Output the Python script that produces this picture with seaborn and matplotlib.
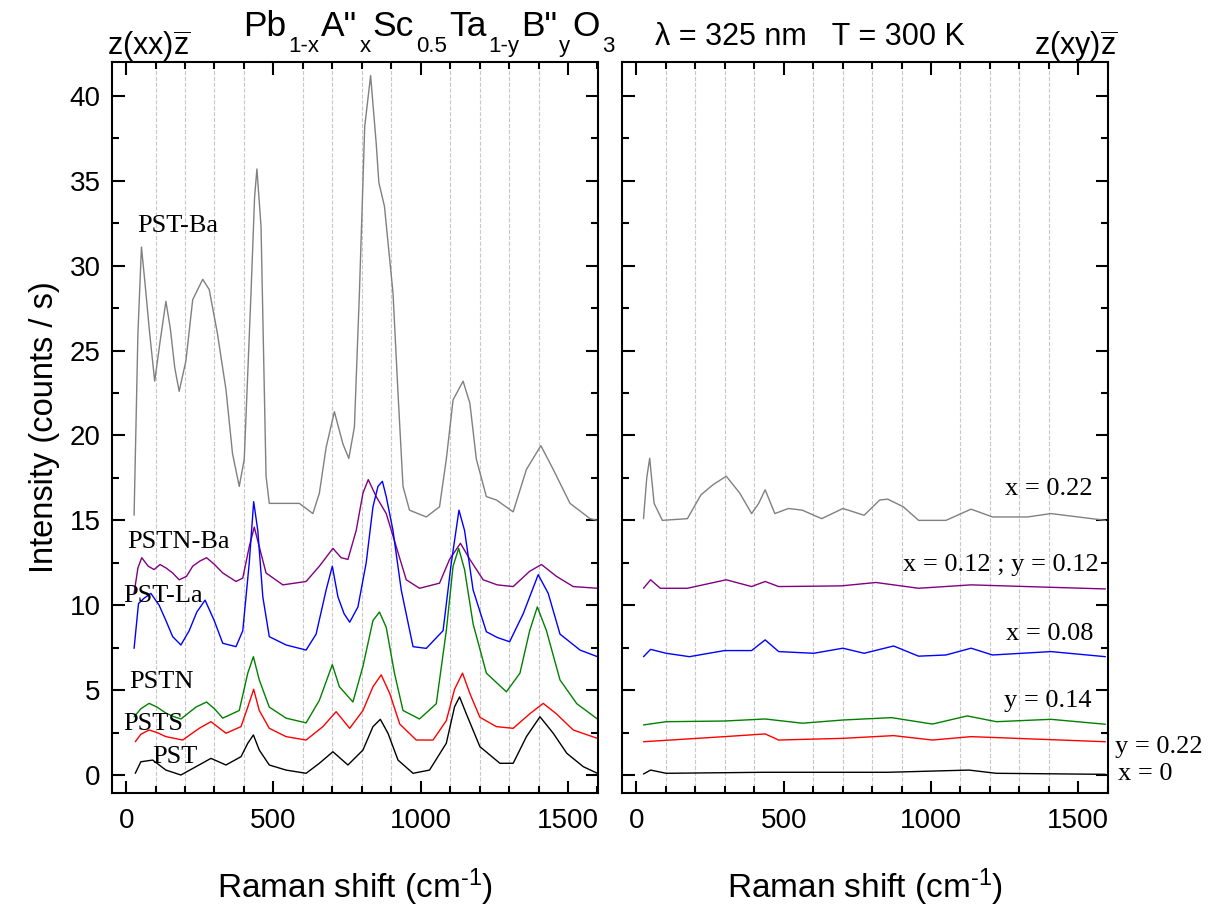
import numpy as np
import pandas as pd
import matplotlib
matplotlib.use('Agg')
import matplotlib.pyplot as plt
from matplotlib.ticker import MultipleLocator
import seaborn as sns

# z(xx)z  --  left panel
pst_ba_x = [27, 40, 52, 65, 80, 97, 115, 135, 150, 165, 180, 203, 226, 260, 282, 310, 339, 361, 384, 401,
            424, 436, 444, 458, 475, 486, 532, 588, 634, 656, 679, 707, 736, 756, 775, 792, 810, 830, 849, 858,
            877, 906, 923, 940, 962, 1019, 1064, 1087, 1110, 1144, 1167, 1189, 1223, 1257, 1314, 1359, 1408,
            1450, 1507, 1575, 1600]
pst_ba_y = [15.3, 26.0, 31.1, 28.8, 26.0, 23.2, 25.5, 27.9, 26.3, 24.0, 22.6, 24.4, 28.0, 29.2, 28.6, 26.0,
            22.7, 18.95, 17.0, 18.6, 28.4, 34.0, 35.7, 32.3, 17.6, 16.0, 16.0, 16.0, 15.4, 16.6, 19.3, 21.4, 19.5,
            18.65, 20.5, 28.4, 38.2, 41.2, 37.2, 34.9, 33.5, 28.4, 22.5, 17.0, 15.6, 15.2, 15.8, 18.6, 22.1, 23.2,
            21.9, 18.6, 16.4, 16.2, 15.5, 18.0, 19.4, 18.0, 16.0, 15.1, 15.0]

pstn_ba_x = [27, 40, 53, 75, 95, 115, 135, 158, 180, 205, 226, 250, 273, 300, 328, 373, 396, 418, 435, 452,
             475, 532, 611, 656, 702, 730, 753, 781, 804, 822, 849, 883, 917, 951, 996, 1064, 1098, 1135, 1167,
             1212, 1260, 1314, 1370, 1410, 1461, 1518, 1600]
pstn_ba_y = [10.7, 12.2, 12.8, 12.3, 12.1, 12.4, 12.2, 11.9, 11.5, 11.7, 12.3, 12.6, 12.8, 12.4, 11.9, 11.4,
             11.6, 13.45, 14.6, 13.45, 11.9, 11.2, 11.4, 12.3, 13.35, 12.8, 12.7, 14.4, 16.6, 17.4, 16.4, 15.4,
             13.45, 11.5, 11.0, 11.3, 12.7, 13.65, 12.7, 11.5, 11.2, 11.1, 12.0, 12.4, 11.7, 11.1, 11.0]

pst_la_x = [27, 42, 60, 84, 112, 135, 158, 186, 214, 240, 268, 299, 328, 373, 396, 418, 433, 447, 464, 486,
            543, 611, 645, 679, 700, 719, 740, 759, 787, 815, 838, 855, 870, 883, 906, 934, 974, 1019, 1076, 1104,
            1130, 1149, 1178, 1223, 1260, 1302, 1348, 1399, 1433, 1473, 1541, 1600]
pst_la_y = [7.46, 10.1, 10.4, 10.7, 10.0, 9.1, 8.15, 7.66, 8.5, 9.6, 10.3, 9.1, 7.76, 7.56, 8.5, 12.5, 16.1,
            14.4, 10.5, 8.15, 7.66, 7.36, 8.3, 10.9, 12.3, 10.5, 9.5, 9.0, 9.9, 12.5, 15.8, 17.0, 17.3, 16.4,
            14.4, 10.9, 7.56, 7.46, 8.5, 12.5, 15.6, 14.4, 10.9, 8.44, 8.1, 7.85, 9.5, 11.8, 10.7, 8.3, 7.36, 6.97]

pstn_x = [27, 50, 78, 105, 135, 160, 186, 237, 273, 300, 328, 384, 413, 432, 452, 486, 543, 611, 656, 700,
          724, 770, 804, 838, 860, 883, 911, 940, 996, 1053, 1087, 1110, 1129, 1149, 1178, 1223, 1291, 1337,
          1370, 1396, 1427, 1473, 1530, 1600]
pstn_y = [3.43, 3.9, 4.22, 4.0, 3.65, 3.45, 3.3, 4.0, 4.3, 3.9, 3.35, 3.8, 6.0, 6.97, 5.6, 4.0, 3.35, 3.07,
          4.4, 6.5, 5.2, 4.3, 6.4, 9.1, 9.6, 8.7, 6.0, 3.8, 3.3, 4.2, 8.5, 12.3, 13.35, 12.1, 8.9, 6.0, 4.9,
          6.0, 8.5, 9.9, 8.5, 5.6, 4.2, 3.3]

psts_x = [31, 50, 78, 105, 135, 192, 248, 288, 339, 390, 413, 433, 452, 486, 543, 611, 668, 713, 759, 804,
          838, 866, 895, 929, 985, 1042, 1087, 1115, 1142, 1167, 1201, 1257, 1314, 1370, 1416, 1461, 1518, 1600]
psts_y = [1.96, 2.4, 2.65, 2.5, 2.26, 2.06, 2.75, 3.14, 2.46, 2.85, 4.0, 5.05, 3.8, 2.75, 2.26, 2.06, 2.85,
          3.73, 2.75, 3.8, 5.2, 5.9, 4.8, 3.0, 2.06, 2.06, 3.2, 5.05, 6.0, 4.8, 3.4, 2.85, 2.75, 3.6, 4.22,
          3.6, 2.65, 2.16]

pst_x = [31, 50, 90, 135, 186, 237, 288, 339, 390, 413, 432, 452, 486, 543, 611, 656, 702, 753, 804, 838,
         863, 889, 923, 974, 1030, 1087, 1115, 1132, 1155, 1201, 1269, 1314, 1359, 1405, 1450, 1496, 1552, 1600]
pst_y = [0.1, 0.78, 0.88, 0.29, 0.0, 0.49, 0.98, 0.59, 1.08, 1.87, 2.36, 1.47, 0.59, 0.29, 0.1, 0.69, 1.37,
         0.59, 1.47, 2.85, 3.28, 2.46, 0.88, 0.1, 0.29, 1.87, 4.02, 4.6, 3.6, 1.67, 0.69, 0.69, 2.26, 3.43,
         2.46, 1.28, 0.49, 0.1]

# z(xy)z  --  right panel
xy_022_x = [24, 35, 45, 60, 88, 173, 219, 260, 305, 351, 391, 415, 437, 470, 516, 563, 629, 701, 773, 826,
            853, 906, 958, 1051, 1136, 1209, 1328, 1407, 1592]
xy_022_y = [15.1, 17.5, 18.66, 16.0, 15.0, 15.1, 16.5, 17.1, 17.6, 16.6, 15.4, 16.0, 16.8, 15.4, 15.7, 15.6,
            15.1, 15.7, 15.3, 16.2, 16.25, 15.8, 15.0, 15.0, 15.66, 15.2, 15.2, 15.4, 15.0]
xy_012_x = [24, 48, 81, 173, 305, 391, 437, 483, 695, 813, 958, 1136, 1592]
xy_012_y = [11.0, 11.5, 11.0, 11.0, 11.5, 11.1, 11.4, 11.1, 11.14, 11.34, 11.0, 11.2, 10.96]
xy_008_x = [24, 48, 101, 180, 299, 391, 437, 483, 602, 701, 773, 873, 958, 1051, 1136, 1209, 1407, 1592]
xy_008_y = [6.97, 7.4, 7.17, 6.97, 7.33, 7.33, 7.96, 7.27, 7.17, 7.47, 7.17, 7.6, 7.0, 7.07, 7.47, 7.07,
            7.27, 6.97]
xy_y014_x = [24, 101, 299, 437, 563, 701, 866, 1005, 1123, 1222, 1407, 1592]
xy_y014_y = [2.95, 3.14, 3.18, 3.3, 3.05, 3.24, 3.38, 3.0, 3.48, 3.14, 3.28, 2.99]
xy_y022_x = [24, 299, 437, 483, 701, 873, 1005, 1136, 1592]
xy_y022_y = [1.96, 2.26, 2.42, 2.06, 2.16, 2.32, 2.06, 2.26, 1.96]
xy_0_x = [24, 48, 101, 431, 853, 1129, 1222, 1592]
xy_0_y = [0.06, 0.29, 0.1, 0.16, 0.16, 0.29, 0.1, 0.04]

colors = {'gray': '#808080', 'purple': '#800080', 'blue': '#0000FF',
          'green': '#008000', 'red': '#FF0000', 'black': '#000000'}

left_series = {'gray': (pst_ba_x, pst_ba_y), 'purple': (pstn_ba_x, pstn_ba_y), 'blue': (pst_la_x, pst_la_y),
               'green': (pstn_x, pstn_y), 'red': (psts_x, psts_y), 'black': (pst_x, pst_y)}
right_series = {'gray': (xy_022_x, xy_022_y), 'purple': (xy_012_x, xy_012_y), 'blue': (xy_008_x, xy_008_y),
                'green': (xy_y014_x, xy_y014_y), 'red': (xy_y022_x, xy_y022_y), 'black': (xy_0_x, xy_0_y)}

# sample labels: text, x, y
left_labels = [('PST-Ba', 36, 32.0), ('PSTN-Ba', 2, 13.35), ('PST-La', -11, 10.2),
               ('PSTN', 11, 5.1), ('PSTS', -11, 2.65), ('PST', 87, 0.69)]
right_labels = [('x = 0.22', 1550, 16.5, 'right'), ('x = 0.12 ; y = 0.12', 1568, 12.0, 'right'),
                ('x = 0.08', 1551, 7.96, 'right'), ('y = 0.14', 1545, 4.03, 'right'),
                ('y = 0.22', 1626, 1.28, 'left'), ('x = 0', 1636, -0.3, 'left')]

# formula in the header: (chunk, is_subscript)
formula = [('Pb', False), ('1-x', True), ('A"', False), ('x', True), ('Sc', False), ('0.5', True),
           ('Ta', False), ('1-y', True), ('B"', False), ('y', True), ('O', False), ('3', True)]


def frame(series):
    parts = []
    for name, (xs, ys) in series.items():
        parts.append(pd.DataFrame({'shift': xs, 'intensity': ys, 'sample': name}))
    return pd.concat(parts, ignore_index=True)


sns.set_style('ticks')
plt.rcParams['font.family'] = ['Liberation Sans', 'DejaVu Sans']
plt.rcParams['mathtext.fontset'] = 'custom'
plt.rcParams['mathtext.rm'] = 'Liberation Sans'
plt.rcParams['mathtext.default'] = 'regular'
for key in ('text.color', 'axes.labelcolor', 'xtick.color', 'ytick.color', 'axes.edgecolor'):
    plt.rcParams[key] = 'black'

W, H = 1215, 906
fig = plt.figure(figsize=(W / 100, H / 100), dpi=100)
ax1 = fig.add_axes([111.7 / W, 1 - 793 / H, 486.3 / W, 731 / H])
ax2 = fig.add_axes([622 / W, 1 - 793 / H, 486.3 / W, 731 / H])

serif = ['Liberation Serif', 'DejaVu Serif']

for ax, series in ((ax1, left_series), (ax2, right_series)):
    sns.lineplot(data=frame(series), x='shift', y='intensity', hue='sample', palette=colors,
                 estimator=None, legend=False, linewidth=1.0, ax=ax)
    ax.set_xlim(-49, 1602)
    ax.set_ylim(-1.06, 42.0)
    ax.xaxis.set_major_locator(MultipleLocator(500))
    ax.xaxis.set_minor_locator(MultipleLocator(100))
    ax.yaxis.set_major_locator(MultipleLocator(5))
    ax.yaxis.set_minor_locator(MultipleLocator(2.5))
    ax.tick_params(which='both', direction='in', top=True, right=True, width=1.5, labelsize=20)
    ax.tick_params(axis='x', pad=11)
    ax.tick_params(axis='y', pad=8)
    ax.tick_params(which='major', length=9)
    ax.tick_params(which='minor', length=5)
    ax.grid(which='minor', axis='x', color='#c8c8c8', linestyle='--', linewidth=0.8)
    for sp in ax.spines.values():
        sp.set_linewidth(1.5)
    ax.set_xlabel(r'Raman shift (cm$^{\text{-}1}$)', fontsize=24, labelpad=23)

ax1.set_ylabel('Intensity (counts / s)', fontsize=23.5, labelpad=7)
ax2.set_ylabel('')
ax2.tick_params(labelleft=False)

for txt, x, y in left_labels:
    ax1.text(x, y, txt, fontsize=19, family=serif, va='baseline', ha='left')
for txt, x, y, ha in right_labels:
    ax2.text(x, y, txt, fontsize=19, family=serif, va='baseline', ha=ha, clip_on=False)

fig.text(107 / W, 1 - 55 / H, r'z(xx)$\overline{z}$', fontsize=22, va='baseline')
fig.text(655 / W, 1 - 45 / H, 'λ = 325 nm   T = 300 K', fontsize=22, va='baseline')
fig.text(1117 / W, 1 - 55 / H, r'z(xy)$\overline{z}$', fontsize=22, va='baseline', ha='right')

# chemical formula, chunk by chunk so the subscripts sit low like the original
renderer = fig.canvas.get_renderer()
xpos = 243
for chunk, sub in formula:
    size, base = (16, 52) if sub else (25.5, 36)
    t = fig.text(xpos / W, 1 - base / H, chunk, fontsize=size, va='baseline')
    xpos += t.get_window_extent(renderer).width + 2

fig.savefig('out.png', dpi=100)
